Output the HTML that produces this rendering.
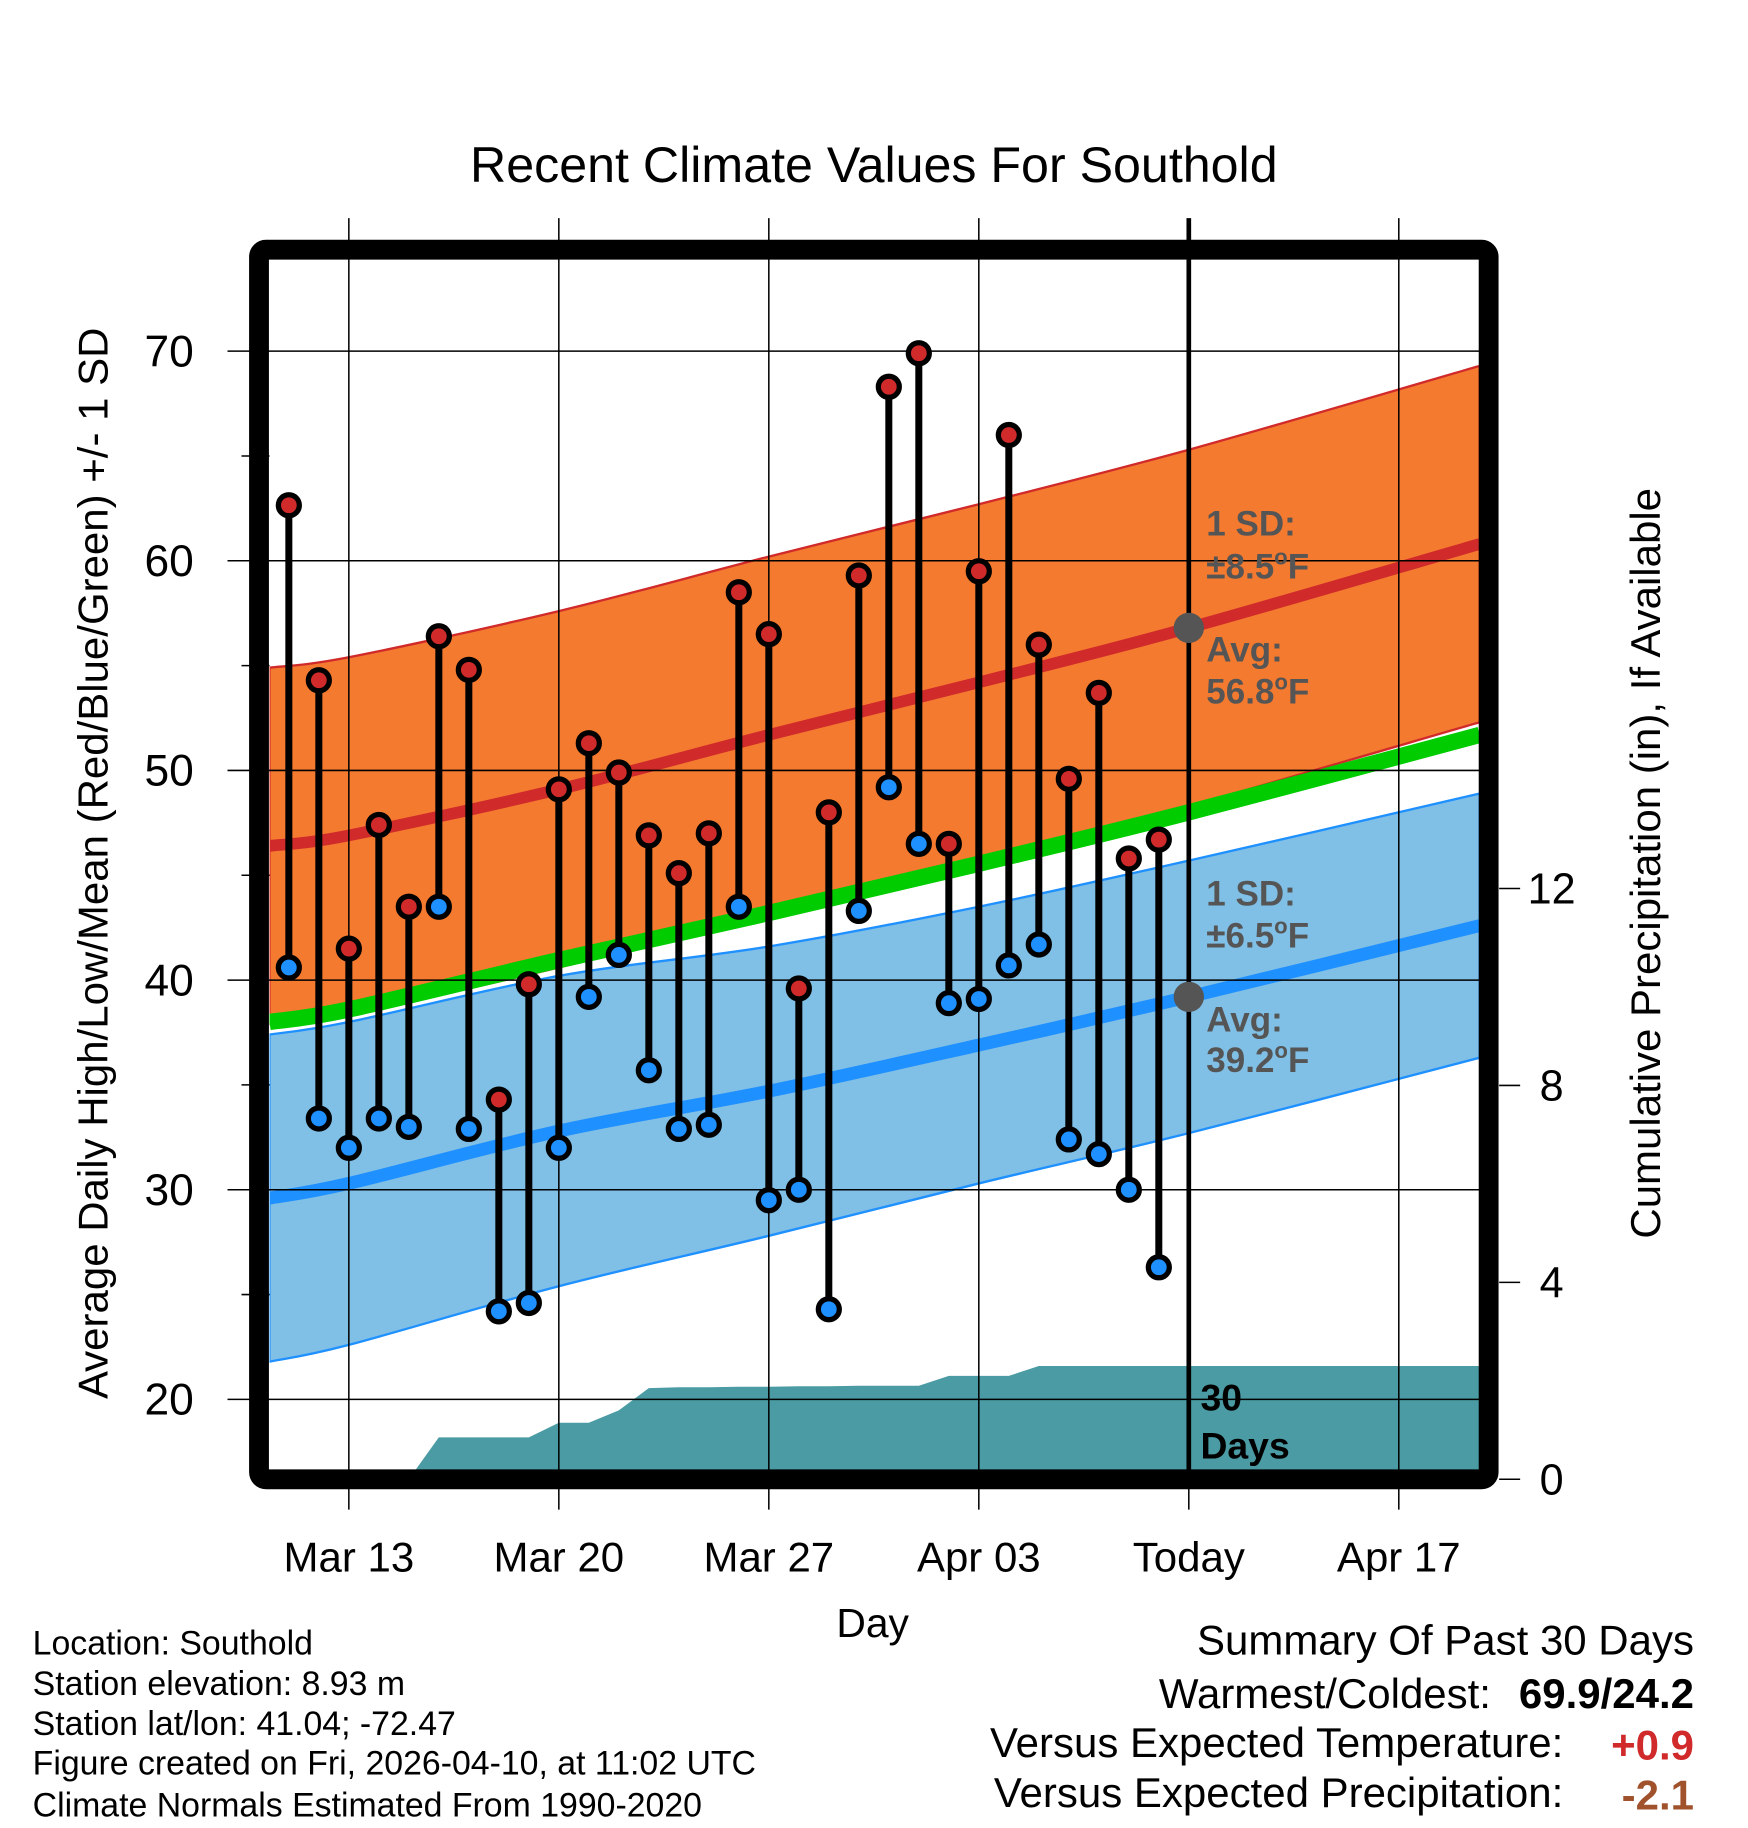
<!DOCTYPE html>
<html><head><meta charset="utf-8"><style>
html,body{margin:0;padding:0;background:#fff;}
svg{display:block;font-family:"Liberation Sans",sans-serif;}
</style></head><body>
<svg id="chart" width="1748" height="1828" viewBox="0 0 1498.3 1566.9" xmlns="http://www.w3.org/2000/svg">
<g id="layers"></g>
<text x="749" y="156" font-size="43" text-anchor="middle">Recent Climate Values For Southold</text>
<text transform="translate(92,740) rotate(-90)" font-size="36" text-anchor="middle">Average Daily High/Low/Mean (Red/Blue/Green) +/- 1 SD</text>
<text transform="translate(1423,740) rotate(-90)" font-size="36" text-anchor="middle">Cumulative Precipitation (in), If Available</text>
<text x="748" y="1403" font-size="35" text-anchor="middle">Day</text>
<g font-size="30" font-weight="bold" fill="#555">
<text x="1034" y="459">1 SD:</text><text x="1034" y="496">±8.5<tspan font-size="19" dy="-12">o</tspan><tspan dy="12">F</tspan></text>
<text x="1034" y="567">Avg:</text><text x="1034" y="603">56.8<tspan font-size="19" dy="-12">o</tspan><tspan dy="12">F</tspan></text>
</g>
<g font-size="30" font-weight="bold" fill="#555">
<text x="1034" y="776">1 SD:</text><text x="1034" y="812">±6.5<tspan font-size="19" dy="-12">o</tspan><tspan dy="12">F</tspan></text>
<text x="1034" y="884">Avg:</text><text x="1034" y="919">39.2<tspan font-size="19" dy="-12">o</tspan><tspan dy="12">F</tspan></text>
</g>
<g font-size="32" font-weight="bold" fill="#000">
<text x="1029" y="1209">30</text><text x="1029" y="1250">Days</text>
</g>
<g font-size="29" fill="#000">
<text x="28" y="1418">Location: Southold</text>
<text x="28" y="1453">Station elevation: 8.93 m</text>
<text x="28" y="1487">Station lat/lon: 41.04; -72.47</text>
<text x="28" y="1521">Figure created on Fri, 2026-04-10, at 11:02 UTC</text>
<text x="28" y="1557">Climate Normals Estimated From 1990-2020</text>
</g>
<g font-size="36" text-anchor="end">
<text x="1452" y="1418">Summary Of Past 30 Days</text>
<text x="1278" y="1464">Warmest/Coldest:</text>
<text x="1452" y="1464" font-weight="bold">69.9/24.2</text>
<text x="1340" y="1506">Versus Expected Temperature:</text>
<text x="1452" y="1508" font-weight="bold" fill="#d02a2a">+0.9</text>
<text x="1340" y="1549">Versus Expected Precipitation:</text>
<text x="1452" y="1551" font-weight="bold" fill="#a0522d">-2.1</text>
</g>
</svg>
<script>
const dayIdx = [-2,-1,0,1,2,3,4,5,6,7,8,9,10,11,12,13,14,15,16,17,18,19,20,21,22,23,24,25,26,27];
const highs = [62.65,54.3,41.5,47.4,43.5,56.4,54.8,34.3,39.8,49.1,51.3,49.9,46.9,45.1,47.0,58.5,56.5,39.6,48.0,59.3,68.3,69.9,46.5,59.5,66.0,56.0,49.6,53.7,45.8,46.7];
const lows = [40.6,33.4,32.0,33.4,33.0,43.5,32.9,24.2,24.6,32.0,39.2,41.2,35.7,32.9,33.1,43.5,29.5,30.0,24.3,43.3,49.2,46.5,38.9,39.1,40.7,41.7,32.4,31.7,30.0,26.3];
const precip = [0,0,0,0,0,0.85,0.85,0.85,0.85,1.15,1.15,1.4,1.85,1.87,1.87,1.88,1.88,1.89,1.89,1.9,1.9,1.9,2.1,2.1,2.1,2.3,2.3,2.3,2.3,2.3];
const normDays = [-2.65,0,7,14,21,28,37.7];
const highNorm = [46.4,46.9,49.1,51.7,54.2,56.8,60.8];
const highSD = [8.5,8.5,8.5,8.5,8.5,8.5,8.5];
const lowNorm = [29.6,30.3,32.8,34.7,36.9,39.2,42.6];
const lowSD = [7.8,7.7,7.4,6.9,6.6,6.5,6.3];
const xTickDays = [0,7,14,21,28,35];
const xTickLabels = ["Mar 13","Mar 20","Mar 27","Apr 03","Today","Apr 17"];
const yTicks = [20,30,40,50,60,70];
const pTicks = [0,4,8,12];

const L=231,R=1268,T=223,B=1260;
const x = d => 299 + d*25.714;
const y = v => 301 + (70-v)*17.97;
const py = p => 1268 - p*42.2;
const NS="http://www.w3.org/2000/svg";
const g=document.getElementById('layers');
function mk(tag,attrs,parent){const e=document.createElementNS(NS,tag);for(const k in attrs)e.setAttribute(k,attrs[k]);(parent||g).appendChild(e);return e;}
function pts(vals,sd,sign){return normDays.map((d,i)=>[x(d),y(vals[i]+(sd?sign*sd[i]:0))]);}
function smooth(p,start){let s=(start?'M':'L')+p[0][0].toFixed(1)+','+p[0][1].toFixed(1);
 for(let i=0;i<p.length-1;i++){const p0=p[Math.max(0,i-1)],p1=p[i],p2=p[i+1],p3=p[Math.min(p.length-1,i+2)];
  const c1=[p1[0]+(p2[0]-p0[0])/6,p1[1]+(p2[1]-p0[1])/6],c2=[p2[0]-(p3[0]-p1[0])/6,p2[1]-(p3[1]-p1[1])/6];
  s+='C'+c1.map(v=>v.toFixed(1)).join(',')+' '+c2.map(v=>v.toFixed(1)).join(',')+' '+p2.map(v=>v.toFixed(1)).join(',');}
 return s;}
function band(vals,sd){return smooth(pts(vals,sd,1),true)+smooth(pts(vals,sd,-1).reverse(),false)+'Z';}
const defs=mk('defs',{});const clip=mk('clipPath',{id:'pc'},defs);mk('rect',{x:L,y:T,width:R-L,height:B-T},clip);

let e;
e=mk('path',{d:band(highNorm,highSD),fill:'#f47a30',stroke:'#d02a2a','stroke-width':2,'clip-path':'url(#pc)'});

e=mk('path',{d:band(lowNorm,lowSD),fill:'#80bfe6',stroke:'#1e90ff','stroke-width':2,'clip-path':'url(#pc)'});

const meanVals=highNorm.map((h,i)=>(h+lowNorm[i])/2);
e=mk('path',{d:smooth(pts(meanVals),true),fill:'none',stroke:'#00cc00','stroke-width':14,'clip-path':'url(#pc)'});

e=mk('path',{d:smooth(pts(highNorm),true),fill:'none',stroke:'#d02a2a','stroke-width':10,'clip-path':'url(#pc)'});

e=mk('path',{d:smooth(pts(lowNorm),true),fill:'none',stroke:'#1e90ff','stroke-width':11,'clip-path':'url(#pc)'});

// precipitation
let pd='M'+x(dayIdx[0])+','+py(0);
dayIdx.forEach((d,i)=>{pd+='L'+x(d).toFixed(1)+','+py(precip[i]).toFixed(1);});
pd+='L'+R+','+py(precip[precip.length-1]).toFixed(1)+'L'+R+','+(B+20)+'L'+x(dayIdx[0])+','+(B+20)+'Z';
e=mk('path',{d:pd,fill:'#4a9ba3','clip-path':'url(#pc)'});

// grid
yTicks.forEach(v=>{
 e=mk('line',{x1:195,x2:R,y1:y(v),y2:y(v),stroke:'#000','stroke-width':1.3});
 
 e=mk('text',{x:145,y:y(v)+13,'font-size':38,'text-anchor':'middle'});e.textContent=v;
 
 if(v<70){e=mk('line',{x1:207,x2:L,y1:y(v+5),y2:y(v+5),stroke:'#000','stroke-width':1.3});
 }
});
xTickDays.forEach((d,i)=>{
 if(d!==28){e=mk('line',{x1:x(d),x2:x(d),y1:187,y2:B,stroke:'#000','stroke-width':1.3});
 }
 e=mk('line',{x1:x(d),x2:x(d),y1:1276,y2:1294,stroke:'#000','stroke-width':1.3});
 
 e=mk('text',{x:x(d),y:1347,'font-size':36,'text-anchor':'middle'});e.textContent=xTickLabels[i];
 
});
pTicks.forEach(p=>{
 e=mk('line',{x1:1285,x2:1303,y1:py(p),y2:py(p),stroke:'#000','stroke-width':1.3});
 
 e=mk('text',{x:1330,y:py(p)+13,'font-size':37,'text-anchor':'middle'});e.textContent=p;
 
});
e=mk('line',{x1:x(28),x2:x(28),y1:187,y2:B,stroke:'#000','stroke-width':4});

// stems and dots
dayIdx.forEach((d,i)=>{
 e=mk('line',{x1:x(d),x2:x(d),y1:y(highs[i]),y2:y(lows[i]),stroke:'#000','stroke-width':6});
 
 e=mk('circle',{cx:x(d),cy:y(highs[i]),r:9,fill:'#d02a2a',stroke:'#000','stroke-width':4.5});
 
 e=mk('circle',{cx:x(d),cy:y(lows[i]),r:9,fill:'#1e90ff',stroke:'#000','stroke-width':4.5});
 
});
e=mk('circle',{cx:x(28),cy:y(highNorm[5]),r:13,fill:'#555'});

e=mk('circle',{cx:x(28),cy:y(lowNorm[5]),r:13,fill:'#555'});

e=mk('rect',{x:222,y:214,width:1054,height:1054,rx:6,fill:'none',stroke:'#000','stroke-width':17});

</script>
</body></html>
